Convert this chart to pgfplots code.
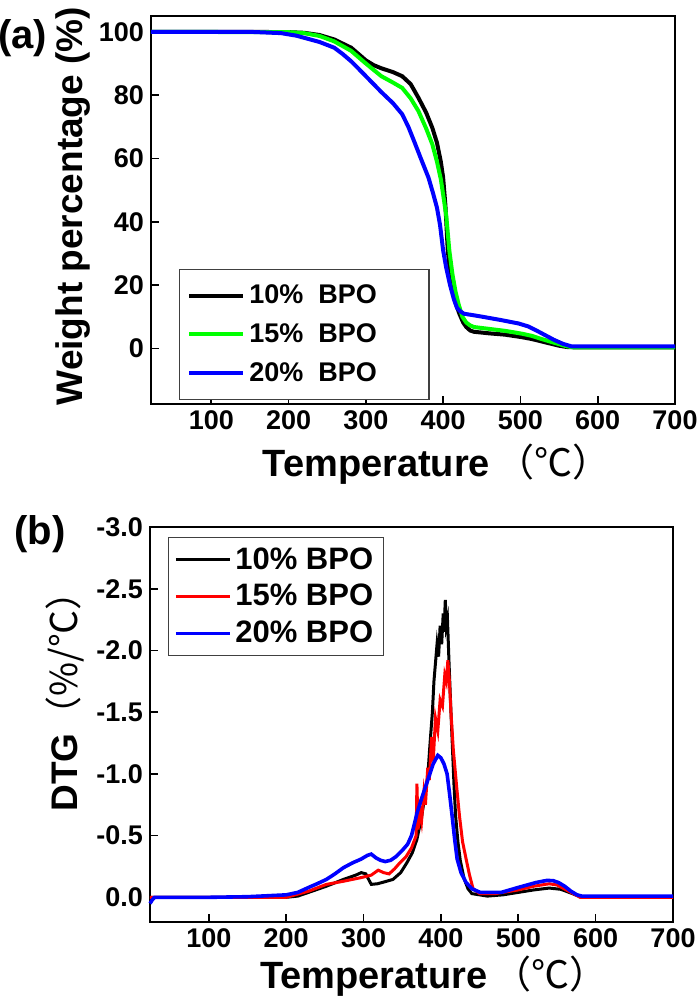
\documentclass[border=0pt]{standalone}
\usepackage{pgfplots}
\pgfplotsset{compat=1.18}
\usepackage{fontspec}
\setmainfont{Liberation Sans}
\newfontfamily\cjk{Noto Sans CJK SC}
\definecolor{pgreen}{RGB}{0,255,0}
\definecolor{pblue}{RGB}{0,0,255}
\definecolor{pred}{RGB}{255,0,0}
\pgfplotsset{
  myax/.style={
    scale only axis,
    axis line style={line width=1pt},
    tick align=inside, xtick pos=bottom, ytick pos=left,
    major tick length=4pt,
    tick style={line width=0.8pt, black},
    /pgf/number format/assume math mode=true,
    ticklabel style={font=\fontsize{13.5}{15}\selectfont\bfseries},
    xtick={100,200,...,700},
    x tick label style={/pgf/number format/1000 sep={}},
    legend cell align=left,
    clip=false,
  },
}
\begin{document}
\begin{tikzpicture}
\path[use as bounding box] (0,0) rectangle (350pt,-498.5pt);
% ---------------- (a) TGA ----------------
\begin{axis}[myax,
  at={(75.5pt,-202pt)}, anchor=south west,
  width=262pt, height=194pt,
  xmin=22, xmax=700, ymin=-17.5, ymax=105,
  ytick={0,20,...,100},
  xlabel={\fontsize{19}{21}\selectfont\bfseries Temperature\,{\cjk\mdseries （℃）}},
  xlabel style={at={(axis description cs:0.545,0)}, anchor=base, yshift=-36pt},
  ylabel={\fontsize{18.5}{20}\selectfont\bfseries Weight percentage (\%)},
  ylabel style={at={(axis description cs:-0.13,0.51)}, anchor=base, rotate=0},
  legend style={at={(axis description cs:0.053,0.348)}, anchor=north west,
    draw=black!75, line width=0.6pt, font=\fontsize{13.5}{15}\selectfont\bfseries,
    inner xsep=4pt, inner ysep=5.5pt, row sep=4.5pt},
  legend image code/.code={\draw[line width=2pt] (0pt,0pt) -- (27pt,0pt);},
]
\addplot[black, line width=2pt] coordinates {
(22,100) (100,100) (150,100) (200,99.9) (220,99.7) (240,99.0) (259,97.6) (281,95)
(300,91) (310,89.5) (320,88.5) (335,87.3) (347,86) (358,83.5) (368,79.2) (378,74.5)
(386,69.7) (392,65) (397,59) (400,54) (403,45) (406,31) (409,24) (412,19) (416,14.5)
(421,11) (426,8.2) (430,6.8) (435,5.7) (440,5.3) (460,4.8) (480,4.4) (502,3.6)
(515,3.0) (525,2.4) (540,1.5) (550,0.9) (560,0.5) (570,0.4) (700,0.4)};
\addlegendentry{10\%\ \ BPO\hspace*{20pt}}
\addplot[pgreen, line width=2pt] coordinates {
(22,100) (200,99.9) (220,99.6) (240,98.7) (259,97) (281,94) (300,90) (320,86)
(335,84) (347,82.3) (358,79) (368,75) (378,69.5) (386,64.5) (392,59) (397,53.5)
(401,47) (404,42) (408,31) (412,23.5) (416,18) (420,14) (425,10) (430,8.2)
(435,7.3) (440,6.8) (460,6.2) (480,5.6) (502,4.7) (515,4.0) (525,3.2) (540,2.1)
(550,1.4) (560,0.7) (568,0.4) (700,0.4)};
\addlegendentry{15\%\ \ BPO}
\addplot[pblue, line width=2pt] coordinates {
(22,100) (150,100) (190,99.6) (210,98.8) (225,97.8) (240,96.8) (259,95) (270,93)
(281,90.7) (290,88.5) (300,86) (310,83.5) (320,81) (335,77.5) (347,74) (355,70)
(364,64.5) (372,59.5) (381,54) (387,49) (392,44.5) (396,39) (400,31) (404,25.5)
(409,20) (414,15.5) (418,12.8) (422,11.8) (427,11) (440,10.5) (452,10) (475,9)
(498,7.9) (510,7) (520,5.8) (530,4.5) (543,2.8) (555,1.5) (566,0.7) (700,0.7)};
\addlegendentry{20\%\ \ BPO}
\node[font=\fontsize{20}{22}\selectfont\bfseries] at (axis description cs:-0.245,0.943) {(a)};
\end{axis}
% ---------------- (b) DTG ----------------
\begin{axis}[myax,
  at={(75pt,-461pt)}, anchor=south west,
  width=261.5pt, height=197.5pt,
  xmin=24, xmax=700, ymin=-3.0, ymax=0.2, y dir=reverse,
  ytick={-3,-2.5,...,0},
  yticklabel style={/pgf/number format/fixed, /pgf/number format/fixed zerofill, /pgf/number format/precision=1},
  xlabel={\fontsize{19}{21}\selectfont\bfseries Temperature\,{\cjk\mdseries （℃）}},
  xlabel style={at={(axis description cs:0.543,0)}, anchor=base, yshift=-33pt},
  ylabel={\fontsize{18.5}{20}\selectfont\bfseries DTG{\cjk\mdseries （\%/℃）}},
  ylabel style={at={(axis description cs:-0.138,0.581)}, anchor=base, rotate=0},
  legend style={at={(axis description cs:0.034,0.975)}, anchor=north west,
    draw=black!75, line width=0.6pt, font=\fontsize{15.5}{17}\selectfont\bfseries,
    inner xsep=3pt, inner ysep=3pt, row sep=2pt},
  legend image code/.code={\draw[line width=1.5pt] (0pt,0pt) -- (27pt,0pt);},
]
\addplot[black, line width=1.5pt] coordinates {
(24,0) (100,0) (200,0) (215,-0.01) (229,-0.04) (252,-0.09) (274,-0.145) (290,-0.18)
(297,-0.2) (303,-0.19) (307,-0.14) (310,-0.105) (318,-0.11) (324,-0.12) (338,-0.145)
(348,-0.2) (356,-0.28) (363,-0.36) (369,-0.47) (375,-0.65) (380,-0.85) (383,-0.98)
(386,-1.25) (389,-1.5) (391,-1.75) (393,-1.9) (395,-2.05) (397,-1.95) (399,-2.2)
(401,-2.05) (403,-2.3) (404,-2.15) (405.7,-2.41) (407,-2.2) (408.5,-2.25) (410.5,-1.9)
(413,-1.5) (415,-1.2) (417,-0.9) (419,-0.66) (422,-0.45) (425,-0.3) (430,-0.15)
(435,-0.07) (440,-0.03) (460,-0.01) (480,-0.02) (500,-0.04) (520,-0.06) (540,-0.075)
(555,-0.065) (570,-0.03) (582,0) (700,0)};
\addlegendentry{10\% BPO}
\addplot[pred, line width=1.5pt] coordinates {
(24,0) (200,0) (229,-0.05) (252,-0.105) (274,-0.13) (297,-0.16) (310,-0.18) (319,-0.22)
(326,-0.2) (333,-0.19) (340,-0.23) (347,-0.28) (355,-0.33) (362,-0.4) (368,-0.5)
(369,-0.92) (370.5,-0.55) (373,-0.7) (375,-0.62) (378,-0.85) (380,-0.75) (383,-1.05)
(385,-0.95) (388,-1.3) (390,-1.1) (393,-1.45) (396,-1.35) (399,-1.6) (402,-1.55)
(405,-1.8) (407,-1.75) (409,-1.92) (411,-1.75) (413,-1.5) (416,-1.2) (420,-0.92)
(424,-0.66) (428,-0.45) (432.6,-0.31) (437,-0.18) (441.6,-0.07) (450,-0.03)
(470,-0.03) (500,-0.06) (520,-0.09) (540,-0.11) (550,-0.1) (565,-0.05) (580,0) (700,0)};
\addlegendentry{15\% BPO}
\addplot[pblue, line width=1.8pt] coordinates {
(24,0.05) (27,0.02) (30,0) (100,0) (150,-0.005) (200,-0.02) (215,-0.04) (229,-0.08)
(240,-0.11) (252,-0.145) (263,-0.19) (274,-0.24) (286,-0.28) (297,-0.31) (305,-0.34)
(310,-0.35) (316,-0.32) (322,-0.3) (328,-0.29) (335,-0.3) (342,-0.33) (350,-0.38)
(357,-0.43) (362,-0.5) (366,-0.6) (369,-0.68) (375,-0.8) (383,-0.95) (390,-1.08)
(396,-1.15) (400,-1.13) (404,-1.08) (408,-1.0) (411,-0.85) (414.5,-0.66) (418,-0.46)
(421,-0.31) (426,-0.2) (432.6,-0.12) (440,-0.07) (450.7,-0.04) (478,-0.04) (500,-0.08)
(523,-0.12) (537,-0.137) (545,-0.135) (552,-0.12) (560,-0.09) (568,-0.05) (576,-0.02)
(582,-0.01) (700,-0.01)};
\addlegendentry{20\% BPO}
\node[font=\fontsize{20}{22}\selectfont\bfseries] at (axis description cs:-0.21,0.982) {(b)};
\end{axis}
\end{tikzpicture}
\end{document}
